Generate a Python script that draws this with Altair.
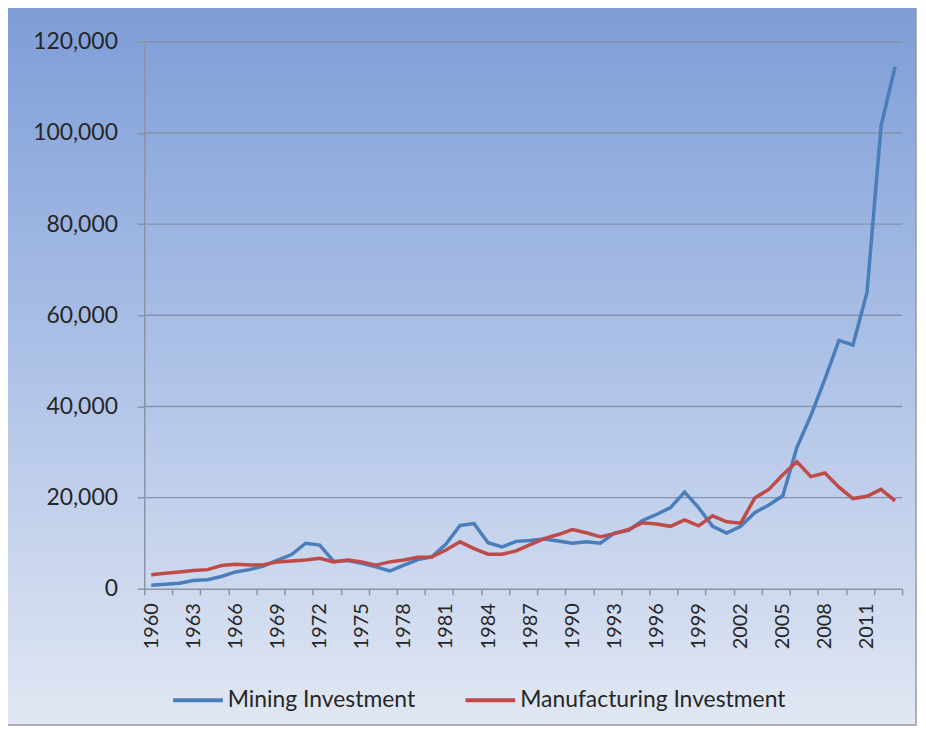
import altair as alt
import pandas as pd

years = list(range(1960, 2014))

mining = [800, 1000, 1200, 1800, 2000, 2700, 3700, 4200, 5000, 6300,
          7500, 10000, 9600, 6000, 6200, 5600, 4800, 3900, 5200, 6400,
          7000, 9800, 13900, 14300, 10100, 9200, 10400, 10600, 10900, 10500,
          10000, 10300, 10000, 12200, 12800, 15000, 16300, 17800, 21200, 17800,
          13700, 12200, 13700, 16700, 18400, 20400, 31000, 38000, 46000, 54500,
          53500, 65000, 101500, 114500]

manufacturing = [3100, 3400, 3700, 4000, 4200, 5100, 5400, 5200, 5300, 5900,
                 6100, 6300, 6700, 5900, 6300, 5900, 5200, 5900, 6300, 6900,
                 7000, 8500, 10300, 8800, 7600, 7600, 8300, 9700, 11000, 11900,
                 13000, 12300, 11400, 12100, 13000, 14500, 14200, 13700, 15100, 13800,
                 16000, 14700, 14400, 19900, 21800, 25000, 27900, 24600, 25400, 22300,
                 19800, 20300, 21800, 19300]

series_names = ["Mining Investment", "Manufacturing Investment"]
series_colors = ["#4A7EBB", "#BE4B48"]
label_years = list(range(1960, 2012, 3))
tick_bounds = [1959.5 + 2 * i for i in range(28)]
y_ticks = list(range(0, 120001, 20000))

df = pd.DataFrame({
    "Year": years * 2,
    "Value": mining + manufacturing,
    "Series": [series_names[0]] * len(years) + [series_names[1]] * len(years),
})
grid_df = pd.DataFrame({"Value": y_ticks[1:]})

FONT = "Lato"
TXT = "#262626"
AX = "#8A94A6"
W, H = 762, 550

gradient = alt.LinearGradient(
    gradient="linear", x1=0, y1=0, x2=0, y2=1,
    stops=[
        alt.GradientStop(offset=0, color="#7E9DD7"),
        alt.GradientStop(offset=0.5, color="#AEC2E7"),
        alt.GradientStop(offset=1, color="#E1E7F3"),
    ],
)

bg = alt.Chart(pd.DataFrame({"a": [0]})).mark_rect(
    color=gradient, stroke="#9A9A9A", strokeWidth=1.5
).encode(
    x=alt.value(-138), x2=alt.value(776), y=alt.value(-35), y2=alt.value(687)
)

xscale = alt.Scale(domain=[1959.5, 2013.5], nice=False, zero=False)
yscale = alt.Scale(domain=[0, 120000], nice=False)

yaxis = alt.Axis(values=y_ticks, labelExpr="format(datum.value, ',')", grid=False,
                 domain=True, domainColor=AX, domainWidth=1.5,
                 tickColor=AX, tickSize=7, tickWidth=1.5, zindex=1,
                 labelPadding=20, labelFontSize=23, labelFont=FONT,
                 labelColor=TXT)

grid = alt.Chart(grid_df).mark_rule(color="#8592AB", strokeWidth=1.5).encode(
    y=alt.Y("Value:Q", scale=yscale, axis=yaxis, title=None),
    x=alt.value(0), x2=alt.value(W),
)

lines = alt.Chart(df).mark_line(strokeWidth=3.5).encode(
    x=alt.X("Year:Q", scale=xscale, title=None,
            axis=alt.Axis(values=label_years, labelExpr="format(datum.value, 'd')",
                          labelAngle=270,
                          ticks=False, grid=False, domain=True,
                          domainColor=AX, domainWidth=1.5, zindex=1,
                          labelPadding=14, labelFontSize=20, labelFont=FONT,
                          labelColor=TXT, labelFlush=False, labelOverlap=False)),
    y=alt.Y("Value:Q", scale=yscale, title=None, axis=yaxis),
    color=alt.Color("Series:N",
                    scale=alt.Scale(domain=series_names, range=series_colors),
                    sort=series_names,
                    legend=alt.Legend(orient="none", legendX=27, legendY=635,
                                      direction="horizontal", title=None,
                                      symbolType="stroke", symbolSize=2500,
                                      symbolStrokeWidth=4, labelFontSize=23,
                                      labelFont=FONT, labelColor=TXT,
                                      labelLimit=400, zindex=1,
                                      labelOffset=3, columnPadding=42)),
)

ticks_layer = alt.Chart(df).mark_line(opacity=0).encode(
    x=alt.X("Year:Q", scale=xscale, title=None,
            axis=alt.Axis(values=tick_bounds, labels=False, ticks=True,
                          tickSize=6, tickColor=AX, tickWidth=1.5, zindex=1,
                          domain=False, grid=False, orient="bottom")),
    y=alt.Y("Value:Q", scale=yscale, axis=yaxis, title=None),
)

chart = alt.layer(bg, grid, lines, ticks_layer).resolve_axis(x="independent").properties(
    width=W, height=H,
    autosize=alt.AutoSizeParams(type="none"),
    padding={"left": 137, "top": 32, "right": 16, "bottom": 138},
).configure_view(stroke=None).configure(background="white")

chart.save("out.html", embed_options={"renderer": "svg", "actions": False})
